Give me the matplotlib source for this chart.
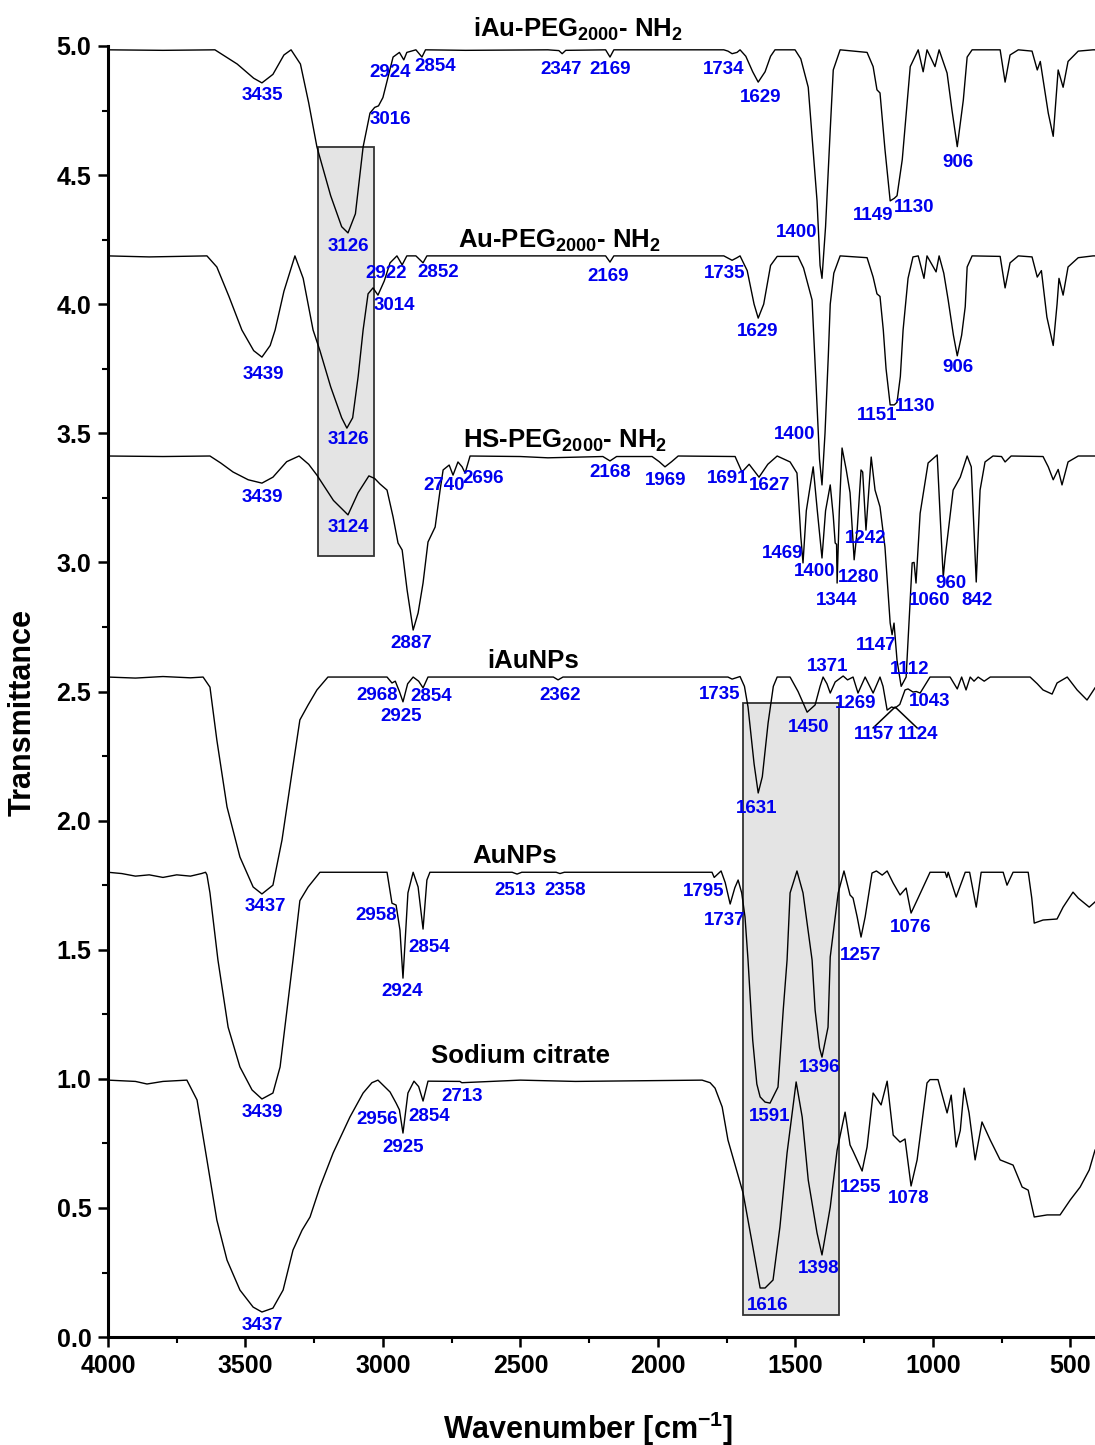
import matplotlib
matplotlib.use('Agg')
import matplotlib.pyplot as plt
from matplotlib.patches import Rectangle

plt.rcParams['font.family'] = ['Liberation Sans', 'DejaVu Sans']
plt.rcParams['font.weight'] = 'bold'
plt.rcParams['mathtext.fontset'] = 'custom'
plt.rcParams['mathtext.rm'] = 'Liberation Sans:bold'
plt.rcParams['mathtext.bf'] = 'Liberation Sans:bold'
plt.rcParams['mathtext.it'] = 'Liberation Sans:bold'

# ── spectra (wavenumber, transmittance) ────────────────────────────────────
wn_iau_peg = [4000, 3800, 3611, 3530, 3470, 3440, 3400, 3360, 3334, 3300, 3270, 3240, 3190, 3150,
              3127, 3100, 3072, 3047, 3030, 3016, 3000, 2963, 2940, 2924, 2913, 2880, 2858, 2845,
              2700, 2400, 2360, 2348, 2335, 2190, 2174, 2160, 1760, 1745, 1730, 1712, 1701, 1680,
              1655, 1635, 1610, 1590, 1574, 1501, 1480, 1453, 1421, 1410, 1403, 1390, 1373, 1362,
              1337, 1239, 1217, 1203, 1192, 1174, 1155, 1140, 1130, 1111, 1082, 1053, 1035, 1021,
              992, 977, 948, 930, 911, 889, 875, 857, 755, 737, 719, 689, 639, 620, 609, 580, 562,
              544, 526, 508, 471, 417, 410]
t_iau_peg = [4.985, 4.983, 4.985, 4.93, 4.875, 4.857, 4.89, 4.965, 4.985, 4.93, 4.78, 4.609, 4.42, 4.30,
             4.276, 4.35, 4.609, 4.74, 4.762, 4.768, 4.80, 4.957, 4.975, 4.946, 4.975, 4.985, 4.957, 4.985,
             4.983, 4.985, 4.982, 4.97, 4.983, 4.985, 4.957, 4.985, 4.985, 4.98, 4.97, 4.975, 4.985, 4.96,
             4.90, 4.86, 4.90, 4.96, 4.985, 4.985, 4.95, 4.84, 4.40, 4.15, 4.10, 4.30, 4.675, 4.907,
             4.985, 4.975, 4.92, 4.83, 4.818, 4.60, 4.40, 4.41, 4.42, 4.56, 4.92, 4.985, 4.90, 4.985,
             4.92, 4.985, 4.895, 4.75, 4.61, 4.79, 4.957, 4.985, 4.985, 4.86, 4.965, 4.985, 4.98, 4.907, 4.94, 4.74, 4.65,
             4.907, 4.84, 4.94, 4.98, 4.985, 4.985]

wn_au_peg = [4000, 3850, 3640, 3604, 3560, 3513, 3470, 3440, 3410, 3392, 3360, 3320, 3290, 3254, 3229,
             3190, 3150, 3131, 3110, 3090, 3072, 3054, 3036, 3018, 2995, 2974, 2949, 2930, 2913, 2880,
             2854, 2840, 2190, 2174, 2160, 1760, 1730, 1712, 1701, 1675, 1650, 1635, 1615, 1590, 1566,
             1490, 1470, 1439, 1425, 1412, 1403, 1392, 1380, 1373, 1360, 1337, 1239, 1217, 1203, 1192,
             1180, 1170, 1155, 1140, 1130, 1118, 1108, 1090, 1072, 1053, 1032, 1021, 988, 977, 960, 944,
             925, 911, 895, 882, 875, 857, 755, 737, 719, 689, 639, 620, 605, 585, 562, 548, 541, 526,
             508, 471, 417, 410]
t_au_peg = [4.187, 4.183, 4.187, 4.144, 4.03, 3.90, 3.82, 3.795, 3.84, 3.90, 4.05, 4.187, 4.10, 3.90, 3.82,
            3.68, 3.56, 3.52, 3.56, 3.72, 3.90, 4.04, 4.063, 4.035, 4.09, 4.16, 4.187, 4.152, 4.187, 4.187,
            4.16, 4.187, 4.187, 4.163, 4.187, 4.187, 4.17, 4.18, 4.187, 4.13, 4.00, 3.946, 4.00, 4.15, 4.185,
            4.185, 4.14, 4.016, 3.70, 3.40, 3.30, 3.50, 3.80, 4.00, 4.12, 4.187, 4.18, 4.105, 4.04, 4.03,
            3.90, 3.75, 3.61, 3.61, 3.62, 3.72, 3.90, 4.10, 4.183, 4.187, 4.10, 4.187, 4.125, 4.187, 4.12, 4.016,
            3.88, 3.80, 3.88, 3.99, 4.144, 4.187, 4.185, 4.063, 4.16, 4.187, 4.183, 4.105, 4.13, 3.95, 3.84, 4.00, 4.10, 4.035,
            4.144, 4.18, 4.187, 4.187]

wn_hs_peg = [4000, 3800, 3629, 3590, 3545, 3490, 3440, 3400, 3350, 3305, 3270, 3240, 3180, 3127, 3090,
             3051, 3030, 3011, 2985, 2963, 2945, 2930, 2912, 2890, 2872, 2854, 2836, 2810, 2792, 2781,
             2759, 2745, 2727, 2712, 2701, 2683, 2500, 2400, 2200, 2174, 2150, 2021, 1995, 1974, 1950,
             1926, 1719, 1694, 1668, 1632, 1600, 1566, 1519, 1494, 1490, 1480, 1472, 1460, 1435, 1420,
             1403, 1390, 1373, 1362, 1355, 1350, 1348, 1340, 1330, 1315, 1301, 1286, 1275, 1261, 1255,
             1243, 1224, 1210, 1192, 1174, 1155, 1148, 1141, 1130, 1115, 1097, 1075, 1068, 1061, 1046,
             1017, 984, 973, 962, 955, 926, 900, 875, 860, 842, 828, 810, 781, 750, 737, 715, 599, 580,
             562, 544, 530, 508, 471, 410]
t_hs_peg = [3.412, 3.41, 3.412, 3.385, 3.35, 3.32, 3.307, 3.33, 3.39, 3.412, 3.38, 3.338, 3.24, 3.184, 3.27,
            3.335, 3.325, 3.304, 3.28, 3.176, 3.075, 3.048, 2.893, 2.738, 2.804, 2.92, 3.079, 3.137, 3.28, 3.358,
            3.377, 3.338, 3.389, 3.37, 3.346, 3.412, 3.41, 3.405, 3.41, 3.393, 3.41, 3.41, 3.39, 3.37, 3.39,
            3.412, 3.41, 3.35, 3.38, 3.33, 3.38, 3.412, 3.389, 3.346, 3.28, 3.10, 2.998, 3.20, 3.37, 3.20,
            3.017, 3.20, 3.30, 3.18, 3.075, 3.07, 2.92, 3.20, 3.443, 3.36, 3.27, 3.01, 3.125, 3.358, 3.35,
            3.125, 3.408, 3.28, 3.215, 3.06, 2.765, 2.72, 2.765, 2.62, 2.52, 2.556, 2.998, 3.0, 2.92, 3.19,
            3.385, 3.416, 3.176, 2.943, 3.02, 3.28, 3.33, 3.412, 3.37, 2.924, 3.28, 3.389, 3.412, 3.41, 3.389, 3.412, 3.41, 3.37,
            3.32, 3.36, 3.30, 3.389, 3.412, 3.412]

wn_iaunps = [4000, 3900, 3800, 3700, 3654, 3629, 3604, 3567, 3520, 3472, 3440, 3400, 3367, 3331, 3302,
             3272, 3240, 3200, 2985, 2967, 2955, 2940, 2927, 2910, 2890, 2870, 2854, 2836, 2380, 2363,
             2345, 1745, 1730, 1701, 1685, 1672, 1650, 1635, 1620, 1599, 1580, 1566, 1519, 1490, 1457,
             1428, 1410, 1399, 1385, 1373, 1355, 1326, 1310, 1290, 1272, 1246, 1217, 1192, 1181, 1166,
             1150, 1137, 1120, 1101, 1090, 1072, 1060, 1046, 1010, 937, 911, 895, 879, 864, 850, 835,
             813, 791, 646, 620, 599, 566, 548, 511, 475, 439, 410]
t_iaunps = [2.556, 2.552, 2.558, 2.553, 2.556, 2.517, 2.312, 2.053, 1.859, 1.743, 1.716, 1.75, 1.925, 2.184, 2.39,
            2.448, 2.506, 2.556, 2.556, 2.533, 2.54, 2.50, 2.46, 2.53, 2.556, 2.54, 2.514, 2.556, 2.556, 2.545,
            2.556, 2.556, 2.548, 2.558, 2.52, 2.44, 2.22, 2.107, 2.17, 2.378, 2.52, 2.556, 2.556, 2.50, 2.42,
            2.448, 2.52, 2.556, 2.53, 2.494, 2.537, 2.56, 2.545, 2.556, 2.494, 2.556, 2.494, 2.556, 2.52, 2.428,
            2.44, 2.436, 2.45, 2.506, 2.51, 2.498, 2.50, 2.494, 2.556, 2.556, 2.51, 2.556, 2.506, 2.556, 2.54, 2.556,
            2.54, 2.556, 2.556, 2.53, 2.506, 2.49, 2.533, 2.556, 2.506, 2.467, 2.514]

wn_aunps = [4000, 3950, 3900, 3850, 3800, 3750, 3700, 3660, 3645, 3640, 3629, 3600, 3563, 3520, 3476,
            3440, 3400, 3374, 3349, 3327, 3302, 3272, 3229, 2985, 2967, 2952, 2938, 2927, 2909, 2890,
            2872, 2854, 2840, 2829, 2530, 2512, 2495, 2370, 2356, 2340, 1803, 1795, 1770, 1755, 1737,
            1720, 1708, 1695, 1683, 1672, 1655, 1640, 1628, 1610, 1592, 1563, 1544, 1530, 1519, 1494,
            1472, 1439, 1428, 1412, 1403, 1381, 1373, 1344, 1323, 1301, 1290, 1275, 1261, 1246, 1221,
            1205, 1184, 1166, 1144, 1119, 1097, 1079, 1057, 1010, 955, 949, 944, 915, 882, 866, 842,
            824, 744, 730, 708, 653, 640, 631, 599, 548, 526, 490, 471, 431, 410]
t_aunps = [1.80, 1.795, 1.785, 1.79, 1.78, 1.79, 1.785, 1.795, 1.80, 1.79, 1.72, 1.46, 1.20, 1.046, 0.957,
           0.922, 0.945, 1.046, 1.266, 1.46, 1.69, 1.743, 1.80, 1.80, 1.68, 1.673, 1.576, 1.39, 1.72, 1.80,
           1.743, 1.58, 1.77, 1.80, 1.80, 1.793, 1.80, 1.80, 1.795, 1.80, 1.80, 1.78, 1.805, 1.76, 1.677,
           1.74, 1.77, 1.72, 1.627, 1.46, 1.15, 0.98, 0.93, 0.91, 0.906, 0.968, 1.266, 1.46, 1.72, 1.805,
           1.72, 1.46, 1.266, 1.12, 1.084, 1.20, 1.472, 1.72, 1.805, 1.712, 1.70, 1.627, 1.549, 1.627, 1.797,
           1.805, 1.789, 1.805, 1.758, 1.712, 1.739, 1.642, 1.692, 1.80, 1.80, 1.78, 1.80, 1.704, 1.80, 1.80, 1.665,
           1.80, 1.80, 1.75, 1.80, 1.80, 1.70, 1.603, 1.615, 1.619, 1.665, 1.723, 1.70, 1.665, 1.685]

wn_citrate = [4000, 3900, 3858, 3800, 3713, 3676, 3640, 3604, 3567, 3520, 3472, 3440, 3400, 3363, 3327,
              3294, 3265, 3229, 3181, 3120, 3072, 3040, 3018, 2974, 2952, 2940, 2927, 2909, 2887, 2870,
              2854, 2836, 2720, 2713, 2500, 2300, 1839, 1810, 1792, 1766, 1745, 1690, 1657, 1628, 1610,
              1581, 1556, 1530, 1497, 1475, 1453, 1421, 1403, 1381, 1373, 1348, 1319, 1301, 1290, 1257,
              1239, 1217, 1188, 1166, 1144, 1119, 1101, 1079, 1057, 1021, 1010, 981, 948, 933, 915, 900,
              886, 868, 846, 821, 791, 755, 708, 675, 653, 631, 584, 537, 500, 464, 431, 410]
t_citrate = [0.995, 0.99, 0.98, 0.99, 0.995, 0.918, 0.686, 0.453, 0.298, 0.182, 0.116, 0.097, 0.112, 0.182, 0.337,
             0.414, 0.465, 0.581, 0.713, 0.852, 0.945, 0.985, 0.995, 0.949, 0.906, 0.88, 0.79, 0.945, 0.991, 0.97,
             0.914, 0.991, 0.99, 0.985, 0.995, 0.99, 0.995, 0.985, 0.964, 0.891, 0.763, 0.558, 0.364, 0.19, 0.19,
             0.221, 0.426, 0.713, 0.988, 0.852, 0.608, 0.403, 0.318, 0.453, 0.503, 0.724, 0.871, 0.744, 0.72, 0.643,
             0.736, 0.945, 0.899, 0.991, 0.782, 0.755, 0.767, 0.585, 0.686, 0.984, 0.997, 0.997, 0.868, 0.937, 0.736, 0.80,
             0.964, 0.868, 0.686, 0.833, 0.763, 0.686, 0.666, 0.581, 0.569, 0.465, 0.473, 0.473, 0.531, 0.581, 0.647, 0.724]

SPECTRA = [(wn_iau_peg, t_iau_peg), (wn_au_peg, t_au_peg), (wn_hs_peg, t_hs_peg),
           (wn_iaunps, t_iaunps), (wn_aunps, t_aunps), (wn_citrate, t_citrate)]

# sample names (x, baseline y)
NAMES = [('iAu-PEG$_{2000}$- NH$_{2}$', 2290, 5.035),
         ('Au-PEG$_{2000}$- NH$_{2}$', 2359, 4.218),
         ('HS-PEG$_{2000}$- NH$_{2}$', 2339, 3.443),
         ('iAuNPs', 2454, 2.591),
         ('AuNPs', 2519, 1.836),
         ('Sodium citrate', 2498, 1.061)]

# peak labels (text, x, y)
PEAKS = [
    ('3435', 3440, 4.810), ('2924', 2974, 4.899), ('2854', 2810, 4.922), ('3016', 2974, 4.717),
    ('3126', 3127, 4.222), ('2347', 2352, 4.907), ('2169', 2174, 4.907), ('1734', 1759, 4.907),
    ('1629', 1625, 4.802), ('1400', 1494, 4.276), ('1149', 1217, 4.345), ('1130', 1068, 4.373),
    ('906', 908, 4.547),
    ('3439', 3436, 3.726), ('2922', 2989, 4.117), ('2852', 2800, 4.121), ('3014', 2960, 3.993),
    ('3126', 3127, 3.474), ('2169', 2181, 4.109), ('1735', 1756, 4.117), ('1629', 1636, 3.896),
    ('1400', 1501, 3.497), ('1151', 1203, 3.567), ('1130', 1064, 3.602), ('906', 908, 3.753),
    ('3439', 3440, 3.253), ('3124', 3127, 3.137), ('2740', 2778, 3.296), ('2696', 2636, 3.323),
    ('2887', 2898, 2.684), ('2168', 2174, 3.350), ('1969', 1970, 3.319), ('1691', 1748, 3.323),
    ('1627', 1592, 3.296), ('1469', 1545, 3.036), ('1400', 1428, 2.963), ('1344', 1348, 2.854),
    ('1280', 1268, 2.943), ('1242', 1243, 3.094), ('1060', 1013, 2.854), ('960', 933, 2.920),
    ('842', 839, 2.854), ('1147', 1206, 2.680), ('1112', 1086, 2.587),
    ('2968', 3021, 2.483), ('2925', 2934, 2.405), ('2854', 2825, 2.479), ('2362', 2356, 2.483),
    ('1735', 1774, 2.490), ('1631', 1639, 2.045), ('1450', 1450, 2.359), ('1371', 1381, 2.595),
    ('1269', 1279, 2.455), ('1043', 1010, 2.463), ('1157', 1214, 2.332), ('1124', 1053, 2.332),
    ('3437', 3429, 1.669),
    ('2958', 3025, 1.631), ('2924', 2931, 1.340), ('2854', 2832, 1.510), ('2513', 2519, 1.731),
    ('2358', 2338, 1.731), ('1795', 1832, 1.727), ('1737', 1756, 1.615), ('1591', 1592, 0.856),
    ('1396', 1410, 1.042), ('1257', 1264, 1.479), ('1076', 1079, 1.588), ('3439', 3440, 0.871),
    ('2956', 3021, 0.844), ('2925', 2927, 0.736), ('2854', 2832, 0.856), ('2713', 2712, 0.930),
    ('1616', 1599, 0.124), ('1398', 1414, 0.267), ('1255', 1264, 0.581), ('1078', 1086, 0.538),
    ('3437', 3440, 0.043),
]

# highlighted regions (x0, x1, y0, y1)
BOXES = [(3236, 3032, 3.025, 4.609), (1690, 1341, 0.085, 2.455)]

fig = plt.figure(figsize=(10.95, 14.45), dpi=100)
ax = fig.add_axes([0.0986, 0.0747, 0.9014, 0.8935])

for x0, x1, y0, y1 in BOXES:
    ax.add_patch(Rectangle((x1, y0), x0 - x1, y1 - y0, facecolor='#e4e4e4',
                           edgecolor='#333333', linewidth=1.3, zorder=1))

for wn, t in SPECTRA:
    ax.plot(wn, t, color='black', linewidth=1.0, zorder=3)

# caret pointing at the 1157/1124 doublet of iAuNPs
ax.plot([1217, 1137, 1057], [2.359, 2.44, 2.359], color='black', linewidth=1.1, zorder=3)

for name, x, y in NAMES:
    ax.text(x, y, name, ha='center', va='baseline', fontsize=18.5, fontweight='bold', color='black')

for lab, x, y in PEAKS:
    ax.text(x, y, lab, ha='center', va='center', fontsize=13.5, fontweight='bold', color='#0000ee', zorder=4)

ax.set_xlim(4000, 410)
ax.set_ylim(0, 5.0)
ax.set_xticks([4000, 3500, 3000, 2500, 2000, 1500, 1000, 500])
ax.set_xticks([3750, 3250, 2750, 2250, 1750, 1250, 750], minor=True)
ax.set_yticks([0, 0.5, 1.0, 1.5, 2.0, 2.5, 3.0, 3.5, 4.0, 4.5, 5.0])
ax.set_yticks([0.25, 0.75, 1.25, 1.75, 2.25, 2.75, 3.25, 3.75, 4.25, 4.75], minor=True)
ax.set_yticklabels([f'{v:.1f}' for v in [0, 0.5, 1.0, 1.5, 2.0, 2.5, 3.0, 3.5, 4.0, 4.5, 5.0]])
ax.tick_params(axis='both', which='major', direction='out', length=7, width=1.8, labelsize=18, pad=5)
ax.tick_params(axis='both', which='minor', direction='out', length=4, width=1.5)
for lbl in ax.get_xticklabels() + ax.get_yticklabels():
    lbl.set_fontweight('bold')

ax.spines['top'].set_visible(False)
ax.spines['right'].set_visible(False)
ax.spines['left'].set_linewidth(2.2)
ax.spines['bottom'].set_linewidth(2.2)

ax.set_ylabel('Transmittance', fontsize=22, fontweight='bold')
ax.yaxis.set_label_coords(-0.071, 0.484)
ax.set_xlabel('Wavenumber [cm$^{-1}$]', fontsize=22, fontweight='bold')
ax.xaxis.set_label_coords(0.486, -0.056)

fig.savefig('out.png', dpi=100)
